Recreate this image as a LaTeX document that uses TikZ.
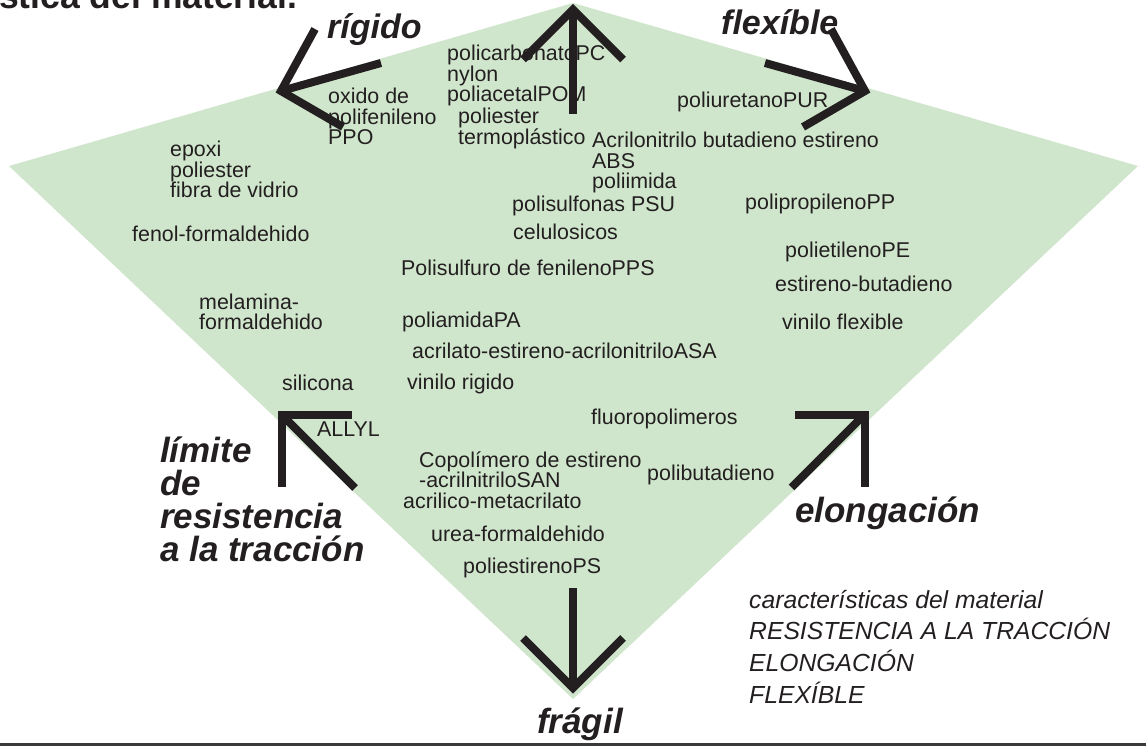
\documentclass[tikz,border=0pt]{standalone}
\usepackage{fontspec}
\setmainfont{Liberation Sans}
\definecolor{ink}{RGB}{35,31,32}
\definecolor{leaf}{RGB}{208,230,204}
\definecolor{rulegray}{RGB}{58,58,58}
\newcommand\lines[1]{\vtop{\halign{##\hfil\cr#1\crcr}}}
\begin{document}
\begin{tikzpicture}[x=1pt,y=-1pt,
  arrowline/.style={draw=ink, line width=8pt, line cap=butt, line join=miter},
  mat/.style={anchor=base west, inner sep=0pt, text=ink, font=\fontsize{21.4}{20.5}\selectfont},
  big/.style={anchor=base west, inner sep=0pt, text=ink, font=\fontsize{35}{33.3}\selectfont\bfseries\itshape},
  wide/.style={anchor=base west, inner sep=0pt, text=ink, font=\fontsize{34}{36}\selectfont\bfseries\itshape},
  legend/.style={anchor=base west, inner sep=0pt, text=ink, font=\fontsize{24.7}{31.7}\selectfont\itshape},
]
\useasboundingbox (0,0) rectangle (1146,746);
\clip (0,0) rectangle (1146,746);

% kite
\coordinate (kt) at (573,3);
\coordinate (kr) at (1138,166);
\coordinate (kb) at (573,699);
\coordinate (kl) at (9,166);
\fill[leaf] (kt) -- (kr) -- (kb) -- (kl) -- cycle;

% title
\node[anchor=base west, inner sep=0pt, text=ink, font=\fontsize{35.5}{40}\selectfont\bfseries] (title) at (-1,9) {stica del material.};

% axis labels
\node[wide] (rigido) at (327,39) {rígido};
\node[wide] (flexible) at (721,35) {flexíble};
\node[big] (limite) at (160,462) {\lines{límite\cr de\cr resistencia\cr a la tracción}};
\node[big] (elong) at (795,522) {elongación};
\node[big] (fragil) at (537,733) {frágil};

% materials
\node[mat] (ppo) at (328,104) {\lines{oxido de\cr polifenileno\cr PPO}};
\node[mat] (pc) at (447,61) {\lines{policarbonatoPC\cr nylon\cr poliacetalPOM}};
\node[mat] (pet) at (458,124) {\lines{poliester\cr termoplástico}};
\node[mat] (abs) at (592,148) {\lines{Acrilonitrilo butadieno estireno\cr ABS\cr poliimida}};
\node[mat] (pur) at (677,108) {poliuretanoPUR};
\node[mat] (epoxi) at (170,157) {\lines{epoxi\cr poliester\cr fibra de vidrio}};
\node[mat] (fenol) at (132,241) {fenol-formaldehido};
\node[mat] (melam) at (199,309) {\lines{melamina-\cr formaldehido}};
\node[mat] (silic) at (282,390) {silicona};
\node[mat] (allyl) at (317,436) {ALLYL};
\node[mat] (psu) at (512,212) {polisulfonas PSU};
\node[mat] (celu) at (513,240) {celulosicos};
\node[mat] (pps) at (401,276) {Polisulfuro de fenilenoPPS};
\node[mat] (pa) at (402,327) {poliamidaPA};
\node[mat] (asa) at (412,358) {acrilato-estireno-acrilonitriloASA};
\node[mat] (vrig) at (407,389) {vinilo rigido};
\node[mat] (pp) at (745,210) {polipropilenoPP};
\node[mat] (pe) at (785,258) {polietilenoPE};
\node[mat] (sb) at (775,291) {estireno-butadieno};
\node[mat] (vflex) at (782,329) {vinilo flexible};
\node[mat] (fluoro) at (591,424) {fluoropolimeros};
\node[mat] (san) at (419,467) {\lines{Copolímero de estireno\cr -acrilnitriloSAN}};
\node[mat] (acril) at (403,508) {acrilico-metacrilato};
\node[mat] (urea) at (431,541) {urea-formaldehido};
\node[mat] (ps) at (463,573) {poliestirenoPS};
\node[mat] (pbd) at (647,480) {polibutadieno};

% legend
\node[legend] (leg) at (749,608) {\lines{características del material\cr RESISTENCIA A LA TRACCIÓN\cr ELONGACIÓN\cr FLEXÍBLE}};

% arrows
% up
\coordinate (uT) at (573,9.5);
\coordinate (uA) at (523,59.5);
\coordinate (uB) at (623,59.5);
\coordinate (uS) at (573,114);
\draw[arrowline] (uA) -- (uT) -- (uB);
\draw[arrowline] (uT) -- (uS);
% rigido
\coordinate (rT) at (281,91);
\coordinate (rA) at (315,29);
\coordinate (rB) at (343,127);
\coordinate (rS) at (381,63);
\draw[arrowline] (rA) -- (rT) -- (rB);
\draw[arrowline] (rT) -- (rS);
% flexible
\coordinate (fT) at (865,91);
\coordinate (fA) at (831,29);
\coordinate (fB) at (803,127);
\coordinate (fS) at (765,63);
\draw[arrowline] (fA) -- (fT) -- (fB);
\draw[arrowline] (fT) -- (fS);
% limite
\coordinate (lT) at (281.5,414.5);
\coordinate (lA) at (352,414.5);
\coordinate (lB) at (281.5,487);
\coordinate (lS) at (355,488);
\draw[arrowline] (lA) -- (lT) -- (lB);
\draw[arrowline] (lT) -- (lS);
% elongacion
\coordinate (eT) at (864.5,414.5);
\coordinate (eA) at (795,414.5);
\coordinate (eB) at (864.5,487);
\coordinate (eS) at (791.5,487.5);
\draw[arrowline] (eA) -- (eT) -- (eB);
\draw[arrowline] (eT) -- (eS);
% fragil
\coordinate (gT) at (573,688);
\coordinate (gA) at (523,638);
\coordinate (gB) at (623,638);
\coordinate (gS) at (573,588);
\draw[arrowline] (gA) -- (gT) -- (gB);
\draw[arrowline] (gT) -- (gS);

% bottom rule
\fill[rulegray] (0,742.5) rectangle (1146,746);
\end{tikzpicture}
\end{document}
